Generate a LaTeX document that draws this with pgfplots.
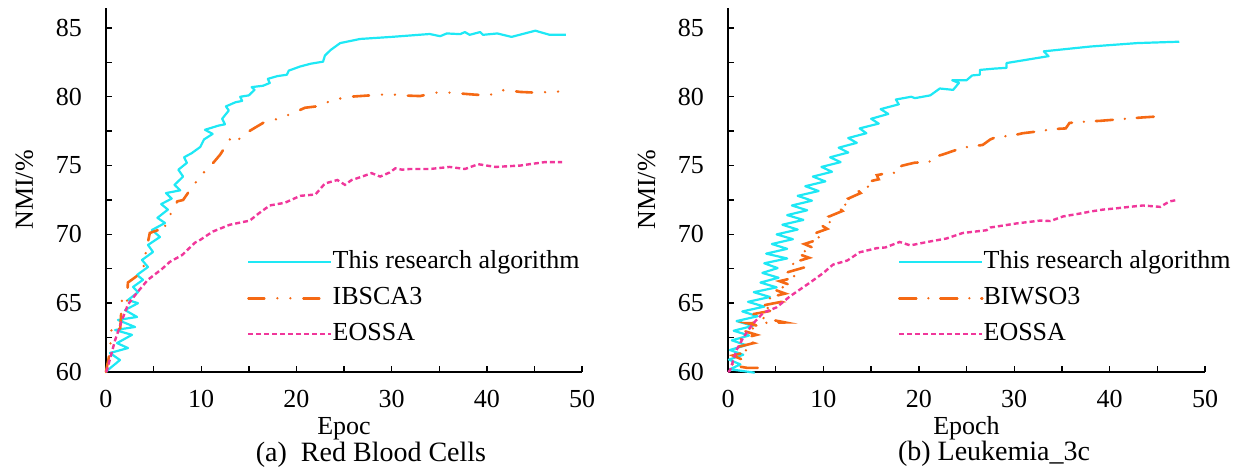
\documentclass[border=0pt]{standalone}
\usepackage{fontspec}
\setmainfont{Liberation Serif}
\usepackage{pgfplots}
\pgfplotsset{compat=1.18}

\definecolor{cyanc}{RGB}{30,232,245}
\definecolor{orangec}{RGB}{245,105,20}
\definecolor{pinkc}{RGB}{240,55,155}

\newcommand{\fs}{\fontsize{26}{30}\selectfont}

\pgfplotsset{
  nmi/.style={
    scale only axis, width=476pt, height=364pt,
    xmin=0, xmax=50, ymin=60, ymax=86.45,
    axis x line=bottom, axis y line=left,
    axis line style={line width=1.6pt, -},
    tick align=inside,
    major tick length=6pt, minor tick length=6pt,
    every tick/.style={line width=1.4pt, black},
    xtick={0,10,...,50}, minor xtick={5,15,...,45},
    ytick={60,65,...,85}, minor ytick={62.5,67.5,...,82.5},
    /pgf/number format/assume math mode=true,
    ticklabel style={font=\fs},
    xticklabel style={inner sep=0pt, anchor=north, yshift=-18pt},
    yticklabel style={inner sep=0pt, anchor=east, xshift=-24pt},
    label style={font=\fs},
    xlabel style={at={(axis description cs:0.5,0)}, anchor=base, yshift=-63pt, inner sep=0pt},
    ylabel style={at={(axis description cs:0,0.5)}, anchor=base, yshift=73pt, inner sep=0pt},
    ylabel={NMI/\%},
    clip=false,
    legend cell align=left,
    legend image code/.code={\draw[##1] (0pt,0pt) -- (83pt,0pt);},
    legend style={draw=none, fill=none, inner sep=0pt, font=\fs,
      row sep=12pt,
      nodes={inner sep=0pt, text height=18pt, text depth=6pt},
      /tikz/every even column/.append style={column sep=3pt}},
  },
}

\begin{document}
\begin{tikzpicture}
\path[use as bounding box] (0,0) rectangle (1255pt,473pt);

\begin{axis}[nmi, at={(106pt,101pt)}, anchor=south west, xlabel={Epoc},
  legend style={at={(0.296,0.335)}, anchor=north west}]
\addplot[cyanc, line width=2.2pt, line join=round] coordinates {
(0,60) (0.21,60.15) (1.47,60.87) (0.42,61.38) (2.31,61.74) (1.16,62.1) (2.73,62.7) (0.95,63.05)
(3.05,63.27) (1.26,63.78) (3.26,64.0) (2.0,64.5) (3.36,65.0) (2.31,65.23) (3.36,65.8) (2.84,66.18)
(3.89,66.7) (3.26,67.05) (4.41,67.63) (3.78,68.14) (4.94,68.72) (4.41,69.23) (5.67,69.81) (4.83,70.32)
(6.2,70.83) (5.4,71.2) (6.5,71.8) (5.8,72.2) (6.9,72.6) (6.3,73.0) (7.8,73.2) (7.2,73.6)
(8.1,74.2) (7.6,74.7) (8.5,75.2) (8.2,75.6) (9.0,75.9) (9.9,76.35) (10.3,76.9) (11.2,77.3)
(10.4,77.6) (11.8,77.9) (12.5,78.0) (12.2,78.4) (12.9,79.0) (12.6,79.3) (13.6,79.6) (14.3,79.7)
(14.1,80.0) (15.0,80.1) (15.6,80.5) (15.3,80.7) (16.5,80.8) (17.2,81.0) (17.0,81.3) (18.0,81.5)
(19.0,81.6) (19.2,81.9) (20.4,82.2) (21.5,82.4) (22.8,82.55) (23.0,83.0) (23.6,83.4) (24.6,83.9)
(26.7,84.2) (30,84.35) (34,84.56) (35.1,84.4) (35.8,84.6) (37.2,84.55) (37.7,84.7) (38.2,84.5)
(39.3,84.7) (39.6,84.5) (41.1,84.6) (42.6,84.35) (45.1,84.8) (46.6,84.5) (48.3,84.5)};
\addlegendentry{This research algorithm}
\addplot[orangec, line width=2.6pt, line cap=round,
  dash pattern=on 16pt off 13pt on 0pt off 13pt on 0pt off 13pt] coordinates {
(0,60) (0.1,60.4) (0.4,61.4) (0.6,63.3) (1.2,63.0) (1.5,63.2) (1.7,65.5) (2.2,65.1)
(2.3,66.5) (3.3,67.0) (3.9,67.4) (4.1,68.4) (4.6,70.1) (5.4,70.3) (5.9,70.1) (6.0,70.3)
(7.0,71.8) (7.5,72.4) (8.1,72.5) (9.0,73.4) (9.9,74.2) (10.4,74.6) (10.9,74.9) (12,75.8)
(13.0,76.9) (13.4,76.6) (14.8,77.4) (16.5,78.1) (18.3,78.45) (19.6,78.8) (20.9,79.2) (22.1,79.3)
(24,79.8) (25.6,80) (28.8,80.15) (29.8,80.2) (30.9,80.1) (33,80.05) (34.6,80.3) (36.1,80.3)
(38.8,80.15) (40.3,80.1) (40.9,80.35) (41.9,80.5) (43.5,80.35) (45.1,80.3) (46.6,80.35) (48.3,80.4)};
\addlegendentry{IBSCA3}
\addplot[pinkc, line width=2.4pt, dash pattern=on 5pt off 3pt] coordinates {
(0,60) (0.1,60.1) (0.4,60.9) (0.95,62.3) (1.7,63.8) (2.3,64.9) (3.3,65.8) (4.4,66.7)
(5.9,67.5) (6.7,68.0) (8,68.5) (9.35,69.4) (9.9,69.6) (11.2,70.2) (13,70.7) (15.1,71.0)
(16,71.5) (17.2,72.1) (18.8,72.3) (20.4,72.8) (22,72.9) (23,73.7) (24.3,73.95) (25.1,73.6)
(25.8,73.95) (26.7,74.15) (27.9,74.45) (28.8,74.2) (29.8,74.5) (30.4,74.8) (31.1,74.7) (31.9,74.75)
(34,74.75) (36.1,74.9) (37.7,74.75) (39.1,75.1) (40.9,74.9) (43.5,75) (44.5,75.1) (46.1,75.25) (47.9,75.25)};
\addlegendentry{EOSSA}
\end{axis}

\begin{axis}[nmi, at={(728pt,101pt)}, anchor=south west, width=477pt, xlabel={Epoch},
  legend style={at={(0.356,0.335)}, anchor=north west}]
\addplot[cyanc, line width=2.2pt, line join=round] coordinates {
(2.8,59.95) (0.2,60.2) (1.3,60.55) (0.1,60.9) (1.6,61.25) (0.2,61.6) (1.9,61.95) (0.4,62.3)
(2.2,62.65) (0.6,63.0) (2.6,63.35) (0.9,63.7) (3.1,64.05) (1.5,64.4) (3.8,64.75) (2.1,65.1)
(4.4,65.45) (2.7,65.8) (5.1,66.15) (3.4,66.5) (5.3,66.85) (3.6,67.2) (5.2,67.55) (3.8,67.9)
(6.2,68.25) (4.0,68.6) (6.2,68.95) (4.6,69.3) (6.8,69.65) (5.1,70.0) (7.3,70.35) (5.7,70.7)
(7.9,71.05) (6.2,71.4) (8.3,71.75) (6.7,72.1) (8.8,72.45) (7.3,72.8) (9.5,73.15) (8.1,73.5)
(10.2,73.85) (8.9,74.2) (10.9,74.55) (9.8,74.9) (11.8,75.25) (10.7,75.6) (12.6,75.95) (11.6,76.3)
(13.5,76.65) (12.6,77.0) (14.5,77.35) (13.8,77.7) (15.8,78.05) (15.0,78.4) (16.8,78.75) (16.0,79.1)
(17.9,79.45) (17.6,79.8) (19.2,80.0) (19.6,79.9) (21.2,80.1) (22.2,80.6) (23.6,80.5) (24.2,81.0)
(23.5,81.2) (25.0,81.2) (25.6,81.55) (26.4,81.6) (26.4,81.95) (28,82.05) (29.2,82.1) (29.2,82.45)
(33.6,82.95) (33.1,83.3) (38,83.65) (42.9,83.9) (47.3,84.0)};
\addlegendentry{This research algorithm}
\addplot[orangec, line width=2.6pt, line cap=round,
  dash pattern=on 17pt off 12pt on 0pt off 12pt] coordinates {
(3.1,60.3) (2.0,60.3) (0.3,60.5) (1.5,60.9) (0.5,61.2) (2.2,61.5) (0.9,61.8) (2.7,62.1)
(1.3,62.4) (3.0,62.7) (1.6,63.0) (3.4,63.3) (2.0,63.55) (6.0,63.6) (3.8,63.9) (2.6,64.2)
(4.9,64.5) (3.4,64.8) (5.6,65.1) (4.2,65.4) (6.0,65.7) (4.8,66.0) (6.6,66.3) (5.4,66.6)
(7.2,66.9) (6.0,67.2) (8.0,67.6) (6.6,67.9) (8.5,68.3) (7.3,68.6) (9.0,69.0) (8.0,69.3)
(9.8,69.7) (8.8,70.0) (10.4,70.4) (9.7,70.7) (11.2,71.0) (10.6,71.3) (12.0,71.7) (11.5,72.0)
(13.0,72.3) (12.6,72.6) (13.9,73.0) (13.6,73.2) (14.8,73.5) (14.5,73.8) (15.8,74.0) (15.6,74.3)
(17.0,74.5) (17.7,74.45) (17.9,74.9) (18.3,75.0) (19.5,75.2) (21.2,75.3) (21.5,75.6) (22.5,75.8)
(24.6,76.3) (26.7,76.5) (27.5,76.9) (28.2,77.1) (29.6,77.15) (30.9,77.35) (32.7,77.5) (34.1,77.65)
(35.4,77.7) (35.8,78.1) (37.6,78.2) (39.0,78.25) (43.5,78.5) (45.8,78.6)};
\addlegendentry{BIWSO3}
\addplot[pinkc, line width=2.4pt, dash pattern=on 5pt off 3pt] coordinates {
(0,60) (0.2,60.1) (0.9,61.6) (1.6,62.5) (2.6,63.5) (3.7,64.3) (5.1,64.7) (6.5,65.5)
(8.6,66.5) (10.0,67.2) (11.0,67.8) (12.5,68.1) (13.8,68.7) (15.6,69.0) (16.5,69.05) (18.0,69.45)
(19.1,69.2) (20.9,69.45) (22.9,69.7) (24.6,70.1) (27.1,70.3) (27.5,70.5) (30.3,70.8) (32.7,71.0)
(33.8,70.97) (35.1,71.3) (37.2,71.55) (37.9,71.65) (39.3,71.8) (40.8,71.9) (42.1,72.0) (43.5,72.1)
(45.3,72.0) (46.3,72.4) (47.1,72.5)};
\addlegendentry{EOSSA}
\end{axis}

\node[font=\fontsize{28}{32}\selectfont, anchor=base, inner sep=0pt] at (371pt,11pt) {(a)\ \ Red Blood Cells};
\node[font=\fontsize{28}{32}\selectfont, anchor=base, inner sep=0pt] at (994pt,12pt) {(b) Leukemia\_3c};
\end{tikzpicture}
\end{document}
